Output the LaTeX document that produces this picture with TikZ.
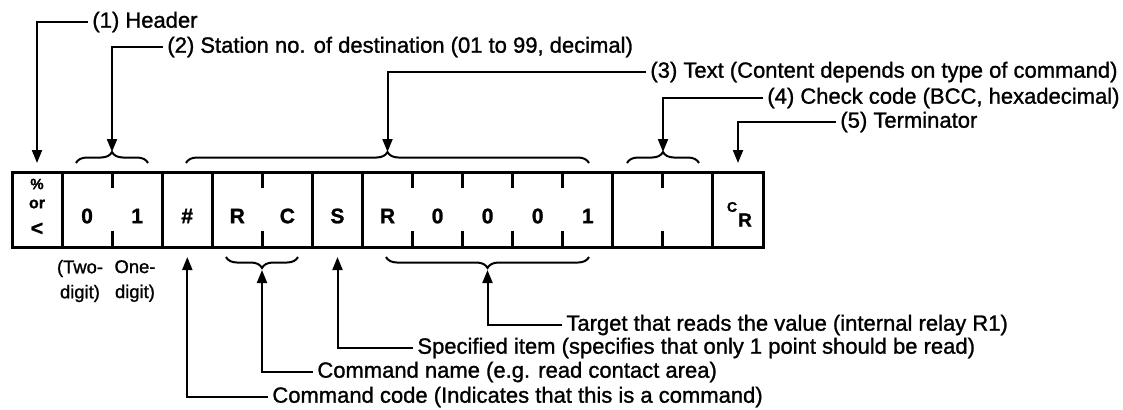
\documentclass[tikz,border=0pt]{standalone}
\usepackage{fontspec}
\setmainfont{Liberation Sans}[FakeBold=1.2]
\usetikzlibrary{arrows.meta,decorations.pathreplacing}

\begin{document}
\begin{tikzpicture}[x=0.5pt,y=-0.5pt,
  lbl/.style={anchor=west,inner sep=2pt,font=\fontsize{11}{13}\selectfont},
  sublbl/.style={align=center,inner sep=0pt,font=\fontsize{9.2}{12.5}\selectfont},
  cellchar/.style={inner sep=0pt,font=\fontsize{10.5}{12}\selectfont\bfseries},
  smallchar/.style={inner sep=0pt,font=\fontsize{7.5}{8}\selectfont\bfseries},
  arr/.style={line width=1pt,-{Triangle[length=6.5pt,width=5pt]}},
  brc/.style={line width=1pt,decorate,decoration={brace,amplitude=5.5pt}},
  brcdown/.style={line width=1pt,decorate,decoration={brace,mirror,amplitude=5.5pt}},
  frame/.style={line width=1.5pt}]
\useasboundingbox (0,0) rectangle (1123,409);
\draw[frame] (12,172) rectangle (763,247);
\foreach \i in {1,3,4,6,7,12,14}
  \draw[frame] (12+50.07*\i,172) -- (12+50.07*\i,247);
\foreach \i in {2,5,8,9,10,11,13} {
  \draw[frame] (12+50.07*\i,172) -- ++(0,16);
  \draw[frame] (12+50.07*\i,247) -- ++(0,-16);
}
\node[smallchar] (pct) at (37,184) {\%};
\node[smallchar,font=\fontsize{8}{8}\selectfont\bfseries] (orword) at (37,204) {or};
\node[cellchar] (lt) at (37,229) {<};
\foreach \i/\c in {1/0,2/1,3/\#,4/R,5/C,6/S,7/R,8/0,9/0,10/0,11/1}
  \node[cellchar] (cell\i) at (12+50.07*\i+25,216) {\c};
\node[smallchar,font=\fontsize{7}{8}\selectfont\bfseries] (crc) at (732,207) {C};
\node[cellchar,font=\fontsize{9.5}{10}\selectfont\bfseries] (crr) at (745,220) {R};

\node[sublbl] (twodig) at (80,281) {(Two-\\digit)};
\node[sublbl] (onedig) at (135,281) {One-\\digit)};

\draw[brc] (76,163) -- (148,163);
\draw[brc] (186,163) -- (589,163);
\draw[brc] (627,163) -- (699,163);
\draw[brcdown] (226,257) -- (298,257);
\draw[brcdown] (386,257) -- (589,257);

\coordinate (hdrin) at (37,163);
\coordinate (stntip) at (112,152);
\coordinate (texttip) at (387.5,152);
\coordinate (bcctip) at (663,152);
\coordinate (termin) at (738,163);
\coordinate (cmdin) at (187.3,257);
\coordinate (nametip) at (262,270);
\coordinate (itemin) at (337.5,257);
\coordinate (targettip) at (487.5,270);

\node[lbl] (h1) at (88,22) {(1) Header};
\node[lbl] (h2) at (163,47) {(2) Station no. of destination (01 to 99, decimal)};
\node[lbl] (h3) at (646,72) {(3) Text (Content depends on type of command)};
\node[lbl] (h4) at (763,98) {(4) Check code (BCC, hexadecimal)};
\node[lbl] (h5) at (836,122) {(5) Terminator};
\node[lbl] (b1) at (562,325) {Target that reads the value (internal relay R1)};
\node[lbl] (b2) at (413,348) {Specified item (specifies that only 1 point should be read)};
\node[lbl] (b3) at (313,372) {Command name (e.g. read contact area)};
\node[lbl] (b4) at (268,397) {Command code (Indicates that this is a command)};

\draw[arr] (h1.west) -| (hdrin);
\draw[arr] (h2.west) -| (stntip);
\draw[arr] (h3.west) -| (texttip);
\draw[arr] (h4.west) -| (bcctip);
\draw[arr] (h5.west) -| (termin);
\draw[arr] (b1.west) -| (targettip);
\draw[arr] (b2.west) -| (itemin);
\draw[arr] (b3.west) -| (nametip);
\draw[arr] (b4.west) -| (cmdin);
\end{tikzpicture}
\end{document}
